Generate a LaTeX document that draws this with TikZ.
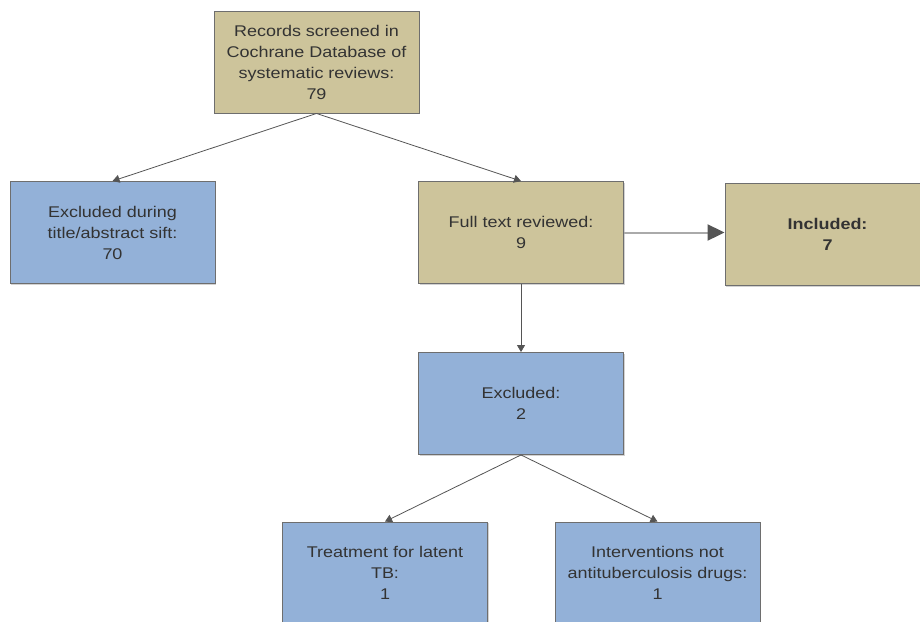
\documentclass[tikz,border=0pt]{standalone}
\usepackage{fontspec}
\setmainfont[FakeStretch=1.16]{Liberation Sans}
\usetikzlibrary{arrows.meta,shadows}
\definecolor{tanfill}{HTML}{CDC49B}
\definecolor{bluefill}{HTML}{93B1D8}
\definecolor{boxline}{HTML}{6E6E6E}
\definecolor{txt}{HTML}{333333}
\definecolor{arr}{HTML}{555555}
\definecolor{arrlight}{HTML}{AAAAAA}
\tikzset{
  box/.style={draw=boxline, line width=0.9pt, minimum width=205pt, minimum height=102pt,
    inner sep=0pt, align=center, text=txt, font=\fontsize{15.5}{21}\selectfont,
    drop shadow={shadow xshift=1.2pt, shadow yshift=-1.2pt, opacity=0.35}},
  tanbox/.style={box, fill=tanfill},
  bluebox/.style={box, fill=bluefill},
  conn/.style={draw=arr, line width=0.8pt, -{Triangle[width=8pt,length=7pt]}},
  bigconn/.style={draw=arrlight, line width=2pt, -{Triangle[width=16pt,length=17pt,color=arr]}}
}
\begin{document}
\begin{tikzpicture}[x=1pt,y=-1pt]
\useasboundingbox (0,0) rectangle (920,621);
\clip (0,0) rectangle (920,621);
\fill[white] (0,0) rectangle (920,621);
\node[tanbox] (top) at (316.5,62) {Records screened in\\Cochrane Database of\\systematic reviews:\\79};
\node[bluebox] (exa) at (112.5,232.5) {Excluded during\\title/abstract sift:\\70};
\node[tanbox] (full) at (521,232.5) {Full text reviewed:\\9};
\node[tanbox] (inc) at (827.5,234.5) {\bfseries Included:\\\bfseries 7};
\node[bluebox] (exb) at (521,403.5) {Excluded:\\2};
\node[bluebox] (treat) at (385,573) {Treatment for latent\\TB:\\1};
\node[bluebox] (interv) at (657.5,573) {Interventions not\\antituberculosis drugs:\\1};
\draw[conn] (top.south) -- (exa.north);
\draw[conn] (top.south) -- (full.north);
\draw[bigconn] (full.east) -- (inc.west |- full.east);
\draw[conn] (full.south) -- (exb.north);
\draw[conn] (exb.south) -- (treat.north);
\draw[conn] (exb.south) -- (interv.north);
\end{tikzpicture}
\end{document}
